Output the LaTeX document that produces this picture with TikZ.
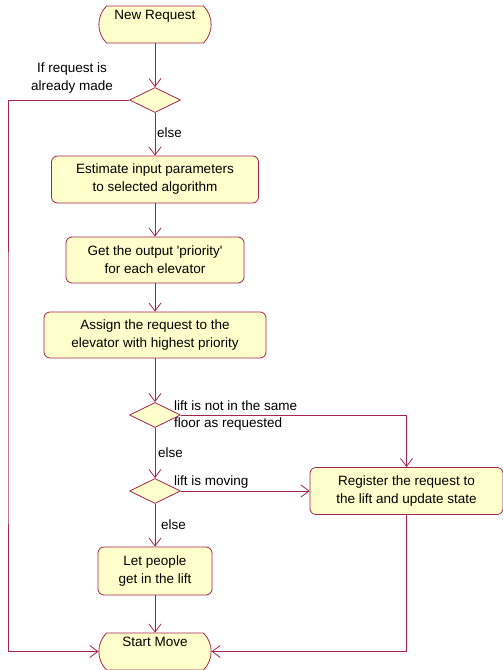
\documentclass[tikz,border=0pt]{standalone}
\usepackage{fontspec}
\setmainfont{Liberation Sans}
\usetikzlibrary{shapes.geometric,shapes.misc,arrows.meta}

\definecolor{umlline}{RGB}{165,35,80}
\definecolor{umlfill}{RGB}{255,255,204}

\tikzset{
  activity/.style={draw=umlline, fill=umlfill, line width=0.8pt, rounded corners=6pt,
    align=center, inner sep=2pt, font=\fontsize{13.5}{18}\selectfont},
  state/.style={draw=umlline, fill=umlfill, line width=0.8pt, rounded rectangle,
    rounded rectangle arc length=90, minimum width=119pt, minimum height=37pt,
    text height=10pt, text depth=21pt, inner ysep=3pt, font=\fontsize{13.5}{18}\selectfont},
  decision/.style={draw=umlline, fill=umlfill, line width=0.8pt, diamond,
    minimum width=51pt, minimum height=25pt, inner sep=0pt},
  flow/.style={draw=umlline, line width=0.8pt, -{Straight Barb[length=8pt,width=12pt]}},
  guard/.style={font=\fontsize{13.5}{17.5}\selectfont, inner sep=0pt}
}

\begin{document}
\begin{tikzpicture}[x=1pt,y=-1pt]

\useasboundingbox (0,0) rectangle (503,670);

\node[state] (req) at (155,24.5) {New Request};
\node[decision] (chk) at (155,100) {};
\node[activity, minimum width=207pt, minimum height=47pt] (est) at (155,179.5) {Estimate input parameters\\to selected algorithm};
\node[activity, minimum width=178pt, minimum height=46pt] (prio) at (155,260) {Get the output \textquotesingle priority\textquotesingle\\for each elevator};
\node[activity, minimum width=222pt, minimum height=46pt] (assign) at (155,335) {Assign the request to the\\elevator with highest priority};
\node[decision] (same) at (155,415) {};
\node[decision] (moving) at (155,491) {};
\node[activity, minimum width=193pt, minimum height=47pt] (reg) at (406.5,491) {Register the request to\\the lift and update state};
\node[activity, minimum width=114pt, minimum height=48pt] (enter) at (155,571) {Let people\\get in the lift};
\node[state] (move) at (155,651.5) {Start Move};

\node[guard, align=center] (made) at (72,78) {If request is\\already made};
\node[guard, anchor=west] (else1) at (157,133) {else};
\node[guard, anchor=west, align=left] (floor) at (174,415.5) {lift is not in the same\\floor as requested};
\node[guard, anchor=west] (else2) at (158,453) {else};
\node[guard, anchor=west] (run) at (174,482) {lift is moving};
\node[guard, anchor=west] (else3) at (161,525) {else};

\coordinate (rail) at (8,400);

\draw[flow] (req.south) -- (chk.north);
\draw[flow] (chk.south) -- (est.north);
\draw[flow] (est.south) -- (prio.north);
\draw[flow] (prio.south) -- (assign.north);
\draw[flow] (assign.south) -- (same.north);
\draw[flow] (same.south) -- (moving.north);
\draw[flow] (moving.south) -- (enter.north);
\draw[flow] (enter.south) -- (move.north);

\draw[flow] (chk.west) -| (rail) |- (move.west);
\draw[flow] (same.east) -| (reg.north);
\draw[flow] (moving.east) -- (reg.west);
\draw[flow] (reg.south) |- (move.east);

\end{tikzpicture}
\end{document}
